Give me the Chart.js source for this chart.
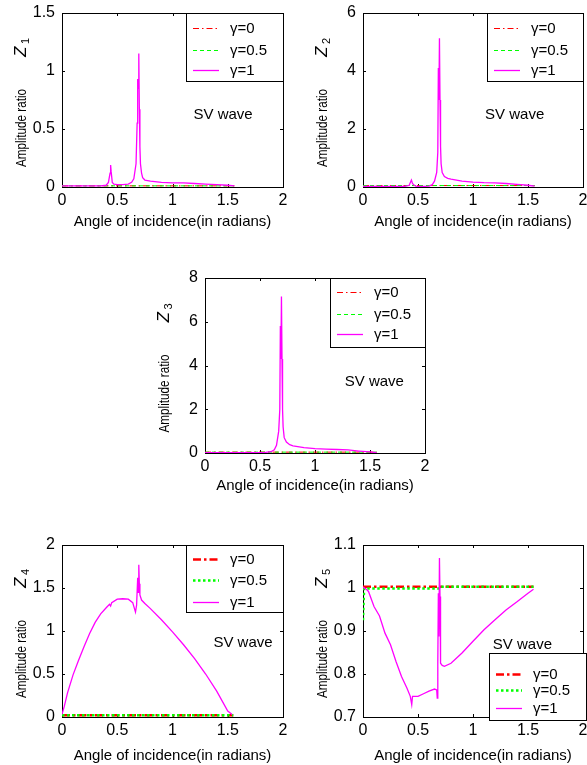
<!DOCTYPE html>
<html>
<head>
<meta charset="utf-8">
<script src="https://cdn.jsdelivr.net/npm/chart.js@4.4.1/dist/chart.umd.min.js"></script>
<style>
    body { margin: 0; background: #fff; width: 587px; height: 765px; overflow: hidden; position: relative; }
    canvas { position: absolute; }
</style>
</head>
<body>
<canvas id="z1" width="290" height="240" style="left:0px;top:0px;width:290px;height:240px"></canvas>
<canvas id="z2" width="287" height="240" style="left:300px;top:0px;width:287px;height:240px"></canvas>
<canvas id="z3" width="290" height="240" style="left:144px;top:264px;width:290px;height:240px"></canvas>
<canvas id="z4" width="290" height="233" style="left:0px;top:532px;width:290px;height:233px"></canvas>
<canvas id="z5" width="287" height="233" style="left:300px;top:532px;width:287px;height:233px"></canvas>
<script>
// shared axis / legend text
const xTicks = [0, 0.5, 1, 1.5, 2];
const legendLabels = ['γ=0', 'γ=0.5', 'γ=1'];

// Z1
const z1YTicks = [0, 0.5, 1, 1.5];
const z1FlatX = [0, 1.56];
const z1Gamma0 = [0.01, 0.01];
const z1Gamma05 = [0.01, 0.01];
const z1X = [0, 0.35, 0.40, 0.42, 0.435, 0.44, 0.445, 0.455, 0.47, 0.5, 0.55, 0.6, 0.63, 0.65, 0.67, 0.68, 0.685, 0.69, 0.695, 0.70, 0.705, 0.71, 0.72, 0.73, 0.75, 0.8, 0.9, 1.0, 1.1, 1.2, 1.3, 1.4, 1.5, 1.56];
const z1Gamma1 = [0.01, 0.01, 0.015, 0.04, 0.12, 0.19, 0.13, 0.04, 0.025, 0.02, 0.02, 0.025, 0.04, 0.07, 0.2, 0.55, 0.93, 0.85, 1.15, 0.67, 0.35, 0.2, 0.12, 0.08, 0.06, 0.05, 0.04, 0.035, 0.035, 0.03, 0.025, 0.02, 0.015, 0.01];

// Z2
const z2YTicks = [0, 2, 4, 6];
const z2FlatX = [0, 1.56];
const z2Gamma0 = [0.05, 0.05];
const z2Gamma05 = [0.05, 0.05];
const z2X = [0, 0.38, 0.42, 0.44, 0.45, 0.46, 0.48, 0.5, 0.55, 0.6, 0.63, 0.65, 0.67, 0.68, 0.685, 0.69, 0.695, 0.70, 0.705, 0.71, 0.72, 0.74, 0.77, 0.8, 0.9, 1.0, 1.1, 1.2, 1.3, 1.4, 1.5, 1.56];
const z2Gamma1 = [0.02, 0.02, 0.06, 0.24, 0.12, 0.08, 0.03, 0.02, 0.02, 0.03, 0.08, 0.2, 0.5, 1.2, 4.1, 3.0, 5.13, 3.0, 1.4, 0.8, 0.5, 0.36, 0.3, 0.27, 0.2, 0.17, 0.15, 0.14, 0.12, 0.09, 0.06, 0.03];

// Z3
const z3YTicks = [0, 2, 4, 6, 8];
const z3FlatX = [0, 1.56];
const z3Gamma0 = [0.04, 0.04];
const z3Gamma05 = [0.04, 0.04];
const z3X = [0, 0.5, 0.55, 0.6, 0.63, 0.65, 0.67, 0.68, 0.685, 0.69, 0.695, 0.70, 0.705, 0.71, 0.72, 0.74, 0.77, 0.8, 0.9, 1.0, 1.1, 1.2, 1.3, 1.4, 1.5, 1.56];
const z3Gamma1 = [0.02, 0.02, 0.03, 0.06, 0.15, 0.35, 1.0, 2.0, 5.8, 4.3, 7.15, 4.3, 2.0, 1.2, 0.7, 0.5, 0.38, 0.33, 0.25, 0.2, 0.18, 0.16, 0.14, 0.09, 0.05, 0.02];

// Z4
const z4YTicks = [0, 0.5, 1, 1.5, 2];
const z4FlatX = [0, 1.55];
const z4Gamma0 = [0.02, 0.02];
const z4Gamma05 = [0.02, 0.02];
const z4X = [0, 0.02, 0.05, 0.1, 0.15, 0.2, 0.25, 0.3, 0.35, 0.4, 0.43, 0.44, 0.45, 0.5, 0.55, 0.6, 0.64, 0.665, 0.675, 0.685, 0.69, 0.695, 0.70, 0.705, 0.72, 0.75, 0.8, 0.9, 1.0, 1.1, 1.2, 1.3, 1.4, 1.5, 1.54];
const z4Gamma1 = [0.03, 0.12, 0.28, 0.49, 0.66, 0.82, 0.97, 1.1, 1.2, 1.27, 1.31, 1.29, 1.33, 1.37, 1.375, 1.37, 1.33, 1.22, 1.3, 1.62, 1.45, 1.77, 1.55, 1.42, 1.36, 1.32, 1.26, 1.13, 0.99, 0.84, 0.68, 0.5, 0.3, 0.07, 0.03];

// Z5
const z5YTicks = [0.7, 0.8, 0.9, 1, 1.1];
const z5Gamma0X = [0, 1.55];
const z5Gamma0 = [1.003, 1.003];
const z5Gamma05X = [0, 0.01, 0.69, 0.70, 1.55];
const z5Gamma05 = [0.925, 0.999, 0.999, 1.003, 1.003];
const z5X = [0, 0.03, 0.05, 0.1, 0.15, 0.2, 0.25, 0.3, 0.35, 0.4, 0.43, 0.443, 0.45, 0.5, 0.55, 0.6, 0.65, 0.67, 0.675, 0.68, 0.685, 0.69, 0.695, 0.70, 0.705, 0.72, 0.74, 0.8, 0.9, 1.0, 1.1, 1.2, 1.3, 1.4, 1.5, 1.55];
const z5Gamma1 = [1.002, 0.997, 0.992, 0.957, 0.935, 0.895, 0.868, 0.829, 0.794, 0.767, 0.748, 0.729, 0.748, 0.748, 0.754, 0.76, 0.765, 0.763, 0.744, 0.825, 0.988, 0.887, 1.07, 0.98, 0.825, 0.82, 0.818, 0.825, 0.849, 0.876, 0.903, 0.926, 0.949, 0.968, 0.988, 0.997];

const FONT = '"Liberation Sans", Arial, sans-serif';

let thinStyles = [
    { color: '#ff0000', width: 1, dash: [6, 3, 1.5, 3] },
    { color: '#00ff00', width: 1, dash: [4, 3] },
    { color: '#ff00ff', width: 1.3, dash: [] }
];
let thickStyles = [
    { color: '#ff0000', width: 2.5, dash: [8, 3, 2.5, 3] },
    { color: '#00ff00', width: 2.5, dash: [2.5, 2.5] },
    { color: '#ff00ff', width: 1.3, dash: [] }
];

let plots = [
    { id: 'z1', sub: '1', yMin: 0, yMax: 1.5, yTicks: z1YTicks, thick: false, padTop: 13, padRight: 7, yW: 62, xH: 53, titleGap: 35,
      series: [[z1FlatX, z1Gamma0], [z1FlatX, z1Gamma05], [z1X, z1Gamma1]],
      sv: [1.19, 0.62], legend: { dx: 0, dy: 0, w: 97, h: 68, rows: [15, 37, 57] } },
    { id: 'z2', sub: '2', yMin: 0, yMax: 6, yTicks: z2YTicks, thick: false, padTop: 13, padRight: 4, yW: 63, xH: 53, titleGap: 35,
      series: [[z2FlatX, z2Gamma0], [z2FlatX, z2Gamma05], [z2X, z2Gamma1]],
      sv: [1.11, 2.5], legend: { dx: 0, dy: 0, w: 96, h: 68, rows: [15, 37, 57] } },
    { id: 'z3', sub: '3', yMin: 0, yMax: 8, yTicks: z3YTicks, thick: false, padTop: 14, padRight: 9, yW: 61, xH: 51, titleGap: 33,
      series: [[z3FlatX, z3Gamma0], [z3FlatX, z3Gamma05], [z3X, z3Gamma1]],
      sv: [1.27, 3.24], legend: { dx: 0, dy: 0, w: 95, h: 69, rows: [14, 36, 56] } },
    { id: 'z4', sub: '4', yMin: 0, yMax: 2, yTicks: z4YTicks, thick: true, padTop: 13, padRight: 7, yW: 62, xH: 48, titleGap: 39,
      series: [[z4FlatX, z4Gamma0], [z4FlatX, z4Gamma05], [z4X, z4Gamma1]],
      sv: [1.37, 0.86], legend: { dx: 0, dy: 0, w: 97, h: 67, rows: [14, 35, 57] } },
    { id: 'z5', sub: '5', yMin: 0.7, yMax: 1.1, yTicks: z5YTicks, thick: true, padTop: 13, padRight: 4, yW: 63, xH: 48, titleGap: 39,
      series: [[z5Gamma0X, z5Gamma0], [z5Gamma05X, z5Gamma05], [z5X, z5Gamma1]],
      sv: [1.18, 0.867], legend: { dx: 3, dy: 108, w: 97, h: 67, rows: [21, 37, 55] } }
];

function pts(xs, ys) {
    let out = [];
    for (let i = 0; i < xs.length; i++) {
        out.push({ x: xs[i], y: ys[i] });
    }
    return out;
}

function matlabPlugin(p) {
    let styles = p.thick ? thickStyles : thinStyles;
    return {
        id: 'matlab' + p.id,
        beforeDatasetsDraw: function (chart) {
            let ctx = chart.ctx;
            let a = chart.chartArea;
            let xs = chart.scales.x;
            let ys = chart.scales.y;
            let l = Math.round(a.left), t = Math.round(a.top), r = Math.round(a.right), b = Math.round(a.bottom);
            ctx.save();
            ctx.strokeStyle = '#000';
            ctx.lineWidth = 1;
            ctx.strokeRect(l + 0.5, t + 0.5, r - l, b - t);
            ctx.beginPath();
            xTicks.forEach(function (v) {
                let px = Math.round(xs.getPixelForValue(v)) + 0.5;
                ctx.moveTo(px, b); ctx.lineTo(px, b - 3);
                ctx.moveTo(px, t); ctx.lineTo(px, t + 3);
            });
            p.yTicks.forEach(function (v) {
                let py = Math.round(ys.getPixelForValue(v)) + 0.5;
                ctx.moveTo(l, py); ctx.lineTo(l + 3, py);
                ctx.moveTo(r, py); ctx.lineTo(r - 3, py);
            });
            ctx.stroke();
            ctx.restore();
        },
        afterDraw: function (chart) {
            let ctx = chart.ctx;
            let a = chart.chartArea;
            let xs = chart.scales.x;
            let ys = chart.scales.y;
            ctx.save();
            ctx.fillStyle = '#000';

            // x title
            ctx.font = '15px ' + FONT;
            ctx.textAlign = 'center';
            ctx.textBaseline = 'middle';
            ctx.fillText('Angle of incidence(in radians)', (a.left + a.right) / 2, a.bottom + p.titleGap);

            // y title, squeezed along its length like the original, italic Z with subscript
            ctx.save();
            ctx.translate(a.left - 36, (a.top + a.bottom) / 2);
            ctx.rotate(-Math.PI / 2);
            ctx.textAlign = 'left';
            ctx.textBaseline = 'alphabetic';
            ctx.save();
            ctx.scale(0.78, 1);
            ctx.font = '15px ' + FONT;
            ctx.fillText('Amplitude ratio', -67 / 0.78, 0);
            ctx.restore();
            ctx.font = 'italic 17px ' + FONT;
            ctx.fillText('Z', 43, 0);
            ctx.font = '11px ' + FONT;
            ctx.fillText(p.sub, 56, 3);
            ctx.restore();

            // SV wave note
            ctx.font = '15px ' + FONT;
            ctx.textAlign = 'left';
            ctx.textBaseline = 'middle';
            ctx.fillText('SV wave', xs.getPixelForValue(p.sv[0]), ys.getPixelForValue(p.sv[1]));

            // boxed legend
            let lg = p.legend;
            let bx = Math.round(a.right) + lg.dx - lg.w;
            let by = Math.round(a.top) + lg.dy;
            ctx.fillStyle = '#fff';
            ctx.fillRect(bx, by, lg.w, lg.h);
            ctx.strokeStyle = '#000';
            ctx.lineWidth = 1;
            ctx.strokeRect(bx + 0.5, by + 0.5, lg.w, lg.h);
            legendLabels.forEach(function (label, i) {
                let yy = by + lg.rows[i] + 0.5;
                ctx.save();
                ctx.strokeStyle = styles[i].color;
                ctx.lineWidth = styles[i].width;
                ctx.setLineDash(styles[i].dash);
                ctx.beginPath();
                ctx.moveTo(bx + 7, yy);
                ctx.lineTo(bx + 33, yy);
                ctx.stroke();
                ctx.restore();
                ctx.fillStyle = '#000';
                ctx.font = '15px ' + FONT;
                ctx.fillText(label, bx + 44, yy);
            });
            ctx.restore();
        }
    };
}

function makeChart(p) {
    let canvas = document.getElementById(p.id);
    let styles = p.thick ? thickStyles : thinStyles;
    let datasets = p.series.map(function (s, i) {
        return {
            label: legendLabels[i],
            data: pts(s[0], s[1]),
            borderColor: styles[i].color,
            borderWidth: styles[i].width,
            borderDash: styles[i].dash.slice(),
            pointRadius: 0,
            fill: false,
            tension: 0,
            order: 2 - i
        };
    });
    new Chart(canvas, {
        type: 'line',
        data: { datasets: datasets },
        options: {
            responsive: false,
            animation: false,
            events: [],
            layout: { padding: { top: p.padTop, right: p.padRight, left: 0, bottom: 0 } },
            plugins: { legend: { display: false }, tooltip: { enabled: false } },
            scales: {
                x: {
                    type: 'linear', min: 0, max: 2,
                    grid: { display: false, drawTicks: false },
                    border: { display: false },
                    afterBuildTicks: function (s) { s.ticks = xTicks.map(function (v) { return { value: v }; }); },
                    afterFit: function (s) { s.height = p.xH; s.paddingLeft = 0; s.paddingRight = 0; },
                    ticks: { padding: 4, maxRotation: 0, autoSkip: false, color: '#000', font: { size: 16 },
                        callback: function (v) { return String(v); } }
                },
                y: {
                    type: 'linear', min: p.yMin, max: p.yMax,
                    grid: { display: false, drawTicks: false },
                    border: { display: false },
                    afterBuildTicks: function (s) { s.ticks = p.yTicks.map(function (v) { return { value: v }; }); },
                    afterFit: function (s) { s.width = p.yW; s.paddingTop = 0; s.paddingBottom = 0; },
                    ticks: { padding: 7, autoSkip: false, color: '#000', font: { size: 16 },
                        callback: function (v) { return String(v); } }
                }
            }
        },
        plugins: [matlabPlugin(p)]
    });
}

window.onload = function () {
    Chart.defaults.font.family = FONT;
    Chart.defaults.color = '#000';
    plots.forEach(makeChart);
}
</script>
</body>
</html>
